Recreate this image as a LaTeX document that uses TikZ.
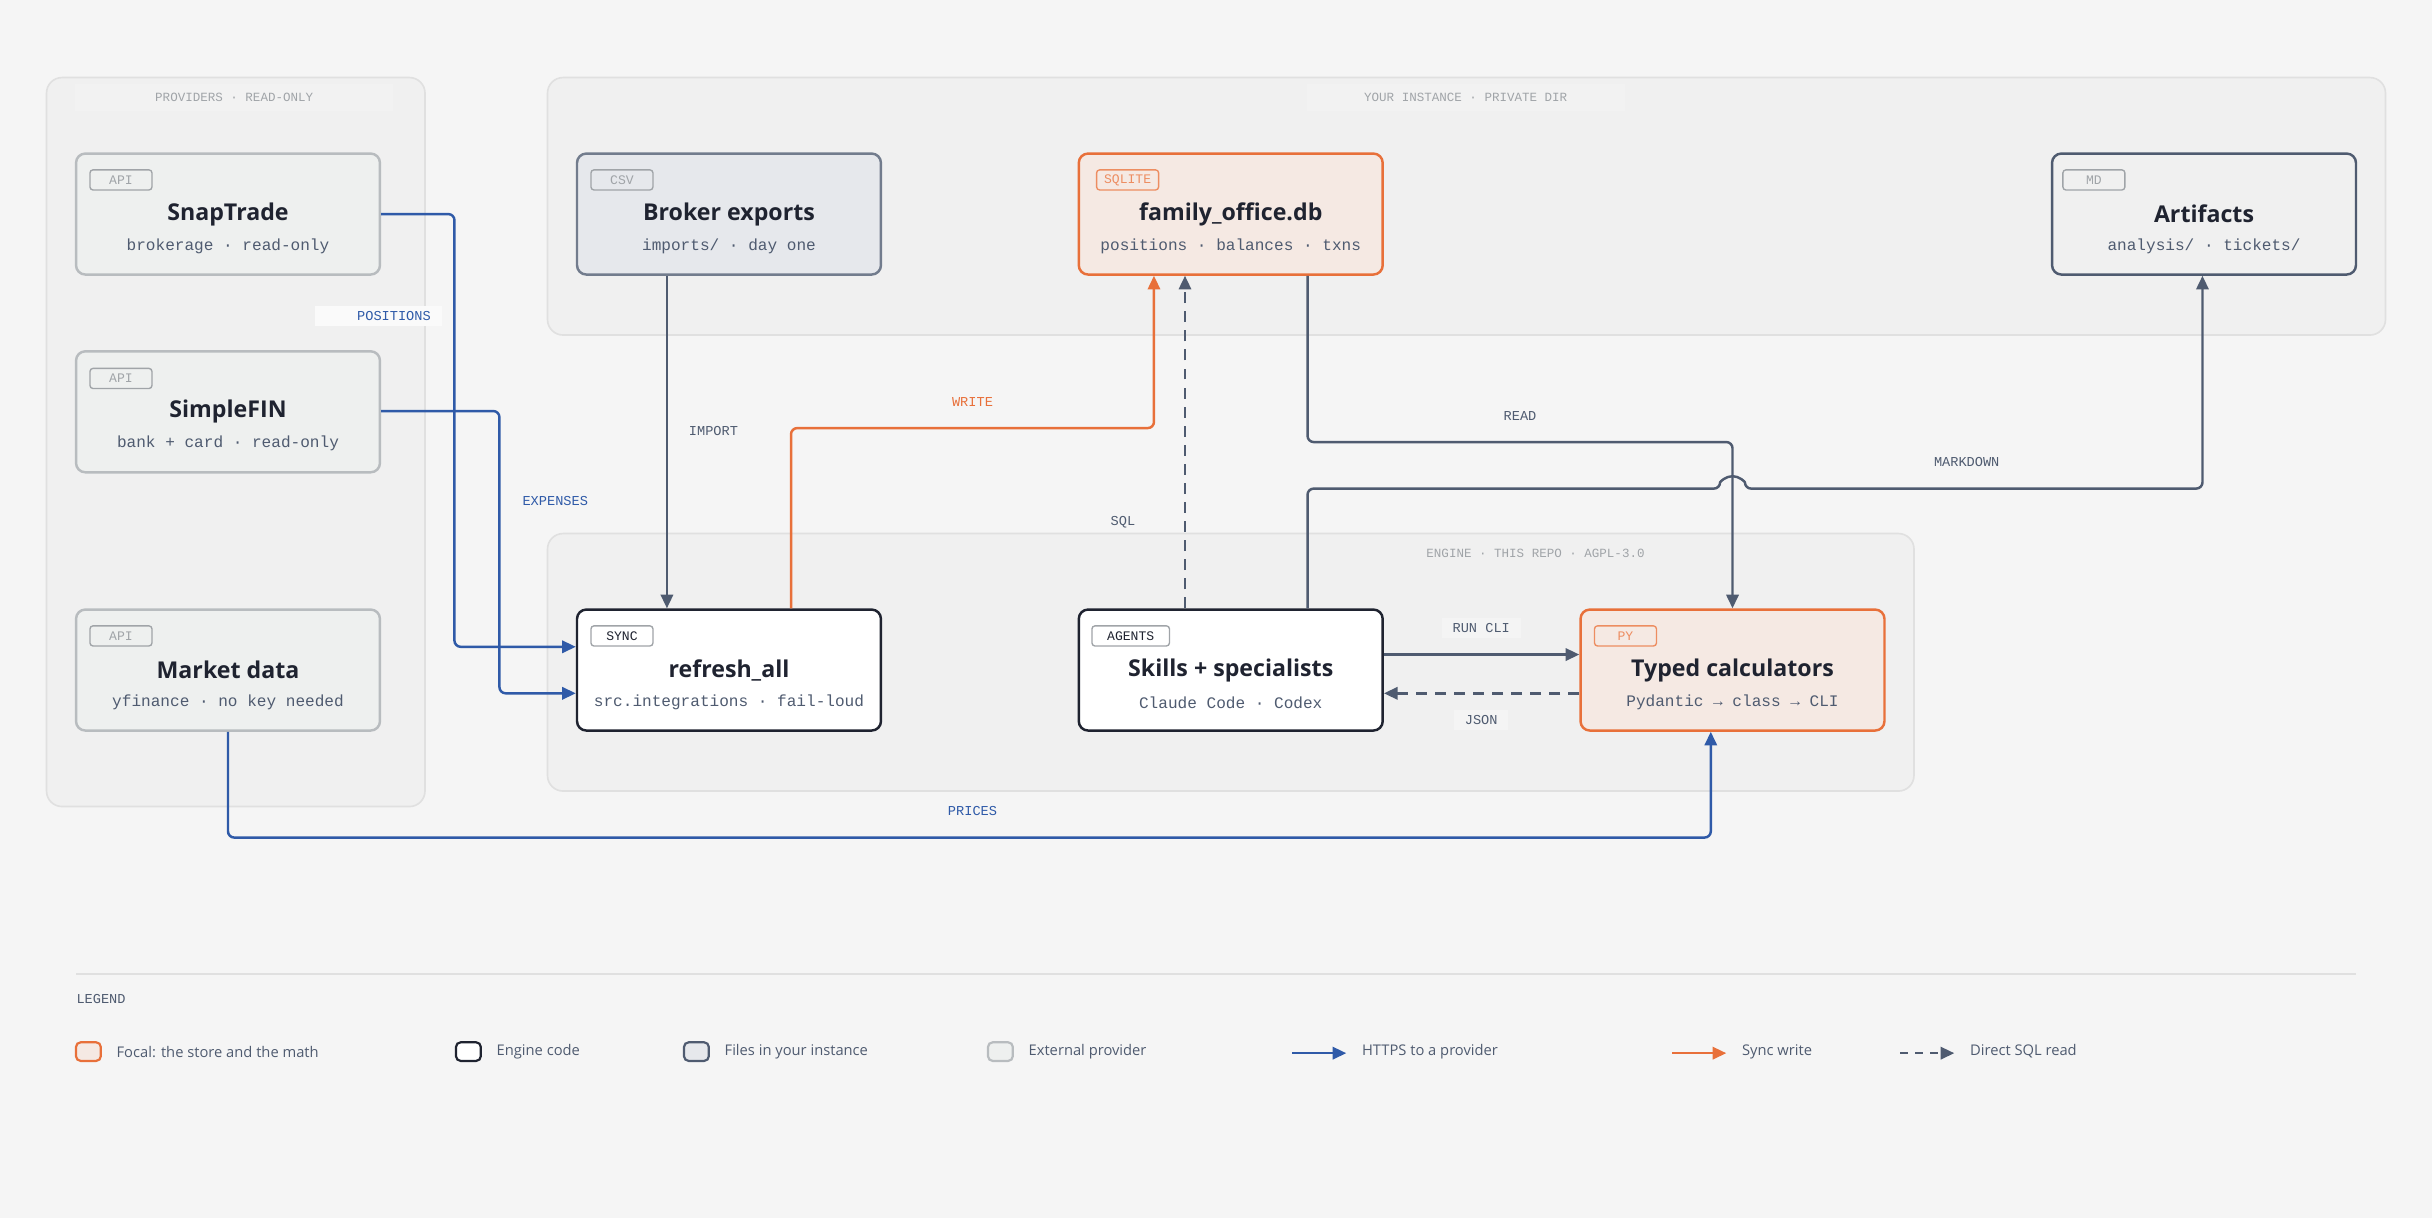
\documentclass[tikz,border=0pt]{standalone}
\usepackage{fontspec}
\setmainfont{Open Sans}
\setmonofont{Liberation Mono}
\usetikzlibrary{arrows.meta}
\definecolor{bgc}{HTML}{F5F5F5}
\definecolor{grpc}{HTML}{F0F0F0}
\definecolor{grpl}{HTML}{E0E0E0}
\definecolor{ink}{HTML}{1F2330}
\definecolor{slate}{HTML}{4F5B70}
\definecolor{blu}{HTML}{2F5AA8}
\definecolor{ora}{HTML}{E8703A}
\definecolor{orafill}{HTML}{F5E9E3}
\definecolor{provfill}{HTML}{EEF0EF}
\definecolor{provline}{HTML}{B8BCBF}
\definecolor{filefill}{HTML}{E6E8EC}
\definecolor{mute}{HTML}{A0A4A8}
\tikzset{
  grp/.style={draw=grpl,fill=grpc,rounded corners=0.2cm,line width=0.6pt},
  grplab/.style={font=\ttfamily\fontsize{4.6}{5}\selectfont,text=mute,fill=bgc!40!grpc,minimum height=0.28cm,inner xsep=4pt},
  box/.style={draw=#1,rounded corners=0.12cm,line width=0.9pt,minimum width=3.92cm,minimum height=1.56cm,inner sep=0pt},
  tag/.style={draw=#1,text=#1,rounded corners=0.04cm,font=\ttfamily\fontsize{4.8}{5}\selectfont,minimum width=0.8cm,minimum height=0.26cm,inner sep=1pt,line width=0.5pt},
  ttl/.style={font=\bfseries\fontsize{8.5}{10}\selectfont,text=ink},
  sub/.style={font=\ttfamily\fontsize{5.9}{7}\selectfont,text=slate},
  lab/.style={font=\ttfamily\fontsize{5}{6}\selectfont,text=#1,fill=grpc!70!white,inner xsep=4pt,inner ysep=2pt},
  flow/.style={draw=#1,line width=0.9pt,rounded corners=0.08cm,-{Triangle[length=5pt,width=4.5pt]}},
  leg/.style={font=\fontsize{5.4}{7}\selectfont,text=slate,anchor=west},
}
\begin{document}
\begin{tikzpicture}[x=0.02cm,y=-0.02cm]
\useasboundingbox[fill=bgc] (0,0) rectangle (1568,785);
% groups
\draw[grp] (30,50) rectangle (274,520);
\node[grplab,minimum width=4.1cm] (gprov) at (151,63) {PROVIDERS · READ-ONLY};
\draw[grp] (353,50) rectangle (1538,216);
\node[grplab,minimum width=4.1cm] (ginst) at (945,63) {YOUR INSTANCE · PRIVATE DIR};
\draw[grp] (353,344) rectangle (1234,510);
\node[grplab,fill=grpc,minimum width=4.1cm] (geng) at (990,357) {ENGINE · THIS REPO · AGPL-3.0};
% boxes
\node[box=provline,fill=provfill] (snap) at (147,138) {};
\node[tag=mute] at (78,116) {API};
\node[ttl] at (147,138) {SnapTrade};
\node[sub] at (147,159) {brokerage · read-only};
\node[box=provline,fill=provfill] (fin) at (147,265.5) {};
\node[tag=mute] at (78,244) {API};
\node[ttl] at (147,265) {SimpleFIN};
\node[sub] at (147,286) {bank + card · read-only};
\node[box=provline,fill=provfill] (mkt) at (147,432) {};
\node[tag=mute] at (78,410) {API};
\node[ttl] at (147,432) {Market data};
\node[sub] at (147,453) {yfinance · no key needed};
\node[box=slate!80,fill=filefill] (brk) at (470,138) {};
\node[tag=mute] at (401,116) {CSV};
\node[ttl] at (470,138) {Broker exports};
\node[sub] at (470,159) {imports/ · day one};
\node[box=ora,fill=orafill] (db) at (793.5,138) {};
\node[tag=ora!80] at (727,116) {SQLITE};
\node[ttl] at (793.5,138) {family\_office.db};
\node[sub] at (793.5,159) {positions · balances · txns};
\node[box=slate,fill=grpc!80!provfill] (art) at (1421,138) {};
\node[tag=mute] at (1350,116) {MD};
\node[ttl] at (1421,138) {Artifacts};
\node[sub] at (1421,159) {analysis/ · tickets/};
\node[box=ink,fill=white] (sync) at (470,432) {};
\node[tag=mute,text=ink] at (401,410) {SYNC};
\node[ttl] at (470,432) {refresh\_all};
\node[sub] at (470,453) {src.integrations · fail-loud};
\node[box=ink,fill=white] (ag) at (793.5,432) {};
\node[tag=mute,text=ink,minimum width=1cm] at (729,410) {AGENTS};
\node[ttl] at (793.5,432) {Skills + specialists};
\node[sub] at (793.5,453) {Claude Code · Codex};
\node[box=ora,fill=orafill] (calc) at (1117,432) {};
\node[tag=ora!80] at (1048,410) {PY};
\node[ttl] at (1117,432) {Typed calculators};
\node[sub] at (1117,453) {Pydantic → class → CLI};
% connectors
\draw[flow=blu] (snap.east) -- (293,138) -- (293,417) -- (sync.west |- 0,417);
\node[lab=blu,fill=bgc!50!white,minimum width=1.5cm] at (244,204) {\hspace*{0.4cm}POSITIONS};
\draw[flow=blu] (fin.east |- 0,265) -- (322,265) -- (322,447) -- (sync.west |- 0,447);
\node[lab=blu,fill=none] at (358,323) {EXPENSES};
\draw[flow=slate] (brk.south -| 430,0) -- (sync.north -| 430,0);
\node[lab=slate,fill=none] at (460,278) {IMPORT};
\draw[flow=ora] (sync.north -| 510,0) -- (510,276) -- (744,276) -- (db.south -| 744,0);
\node[lab=ora,fill=none] at (627,259) {WRITE};
\draw[flow=slate,dash pattern=on 4pt off 3pt] (ag.north -| 764,0) -- (db.south -| 764,0);
\node[lab=slate,fill=none] at (724,337) {SQL};
\draw[flow=slate] (db.south -| 843,0) -- (843,285) -- (1117,285) -- (calc.north);
\node[lab=slate,fill=none] at (980,268) {READ};
\draw[flow=slate] (ag.north -| 843,0) -- (843,315) -- (1109,315) arc[start angle=180,end angle=360,radius=8] -- (1420,315) -- (art.south -| 1420,0);
\node[lab=slate,fill=none] at (1268,298) {MARKDOWN};
\draw[flow=slate] (ag.east |- 0,422) -- (calc.west |- 0,422);
\node[lab=slate] at (955,405) {RUN CLI};
\draw[flow=slate,dash pattern=on 4pt off 3pt] (calc.west |- 0,447) -- (ag.east |- 0,447);
\node[lab=slate] at (955,464) {JSON};
\draw[flow=blu] (mkt.south) -- (147,540) -- (1103,540) -- (calc.south -| 1103,0);
\node[lab=blu,fill=none] at (627,523) {PRICES};
% legend
\draw[grpl,line width=1pt] (49,628) -- (1519,628);
\node[font=\ttfamily\fontsize{5}{6}\selectfont,text=slate,anchor=west,inner sep=0pt] at (49,644) {LEGEND};
\draw[ora,fill=orafill,rounded corners=0.06cm,line width=0.8pt] (49,672) rectangle (65,684);
\node[leg] at (69,678) {Focal: the store and the math};
\draw[ink,fill=white,rounded corners=0.06cm,line width=0.8pt] (294,672) rectangle (310,684);
\node[leg] at (314,678) {Engine code};
\draw[slate,fill=filefill,rounded corners=0.06cm,line width=0.8pt] (441,672) rectangle (457,684);
\node[leg] at (461,678) {Files in your instance};
\draw[provline,fill=provfill,rounded corners=0.06cm,line width=0.8pt] (637,672) rectangle (653,684);
\node[leg] at (657,678) {External provider};
\draw[flow=blu] (833,679) -- (868,679);
\node[leg] at (872,678) {HTTPS to a provider};
\draw[flow=ora] (1078,679) -- (1113,679);
\node[leg] at (1117,678) {Sync write};
\draw[flow=slate,dash pattern=on 3pt off 2.5pt] (1225,679) -- (1260,679);
\node[leg] at (1264,678) {Direct SQL read};
\end{tikzpicture}
\end{document}
